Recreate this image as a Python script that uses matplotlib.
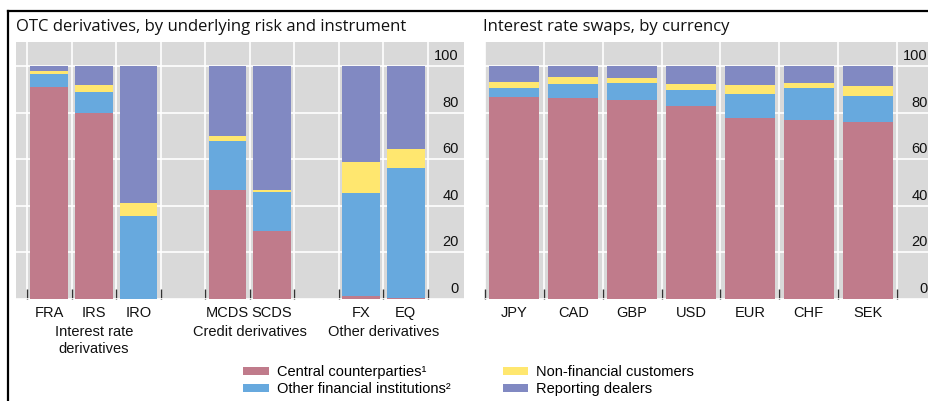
import matplotlib
matplotlib.use("Agg")
import matplotlib.pyplot as plt
import numpy as np
from matplotlib.transforms import offset_copy, blended_transform_factory
from matplotlib.patches import Patch
from matplotlib.lines import Line2D

# ---------------- data ----------------
left_categories = ["FRA", "IRS", "IRO", "MCDS", "SCDS", "FX", "EQ"]
left_positions = [0, 1, 2, 4, 5, 7, 8]
left_groups = ["Interest rate\nderivatives", "Credit derivatives", "Other derivatives"]
left_group_positions = [1, 4.5, 7.5]
left_ccp = [91.0, 80.0, 0.0, 46.8, 29.2, 1.3, 0.3]
left_ofi = [5.7, 8.7, 35.8, 21.1, 16.7, 44.3, 55.8]
left_nfc = [1.0, 3.1, 5.5, 1.9, 0.9, 13.2, 8.3]
left_dealers = [2.3, 8.2, 58.7, 30.2, 53.2, 41.2, 35.6]

right_categories = ["JPY", "CAD", "GBP", "USD", "EUR", "CHF", "SEK"]
right_ccp = [86.7, 86.4, 85.5, 82.8, 77.8, 76.7, 76.1]
right_ofi = [4.0, 5.7, 7.1, 6.9, 10.2, 13.7, 10.9]
right_nfc = [2.3, 3.3, 2.1, 2.7, 3.8, 2.2, 4.3]
right_dealers = [7.0, 4.6, 5.3, 7.6, 8.2, 7.4, 8.7]

series_names = ["Central counterparties\u00b9", "Other financial institutions\u00b2",
                "Non-financial customers", "Reporting dealers"]
yticks = [0, 20, 40, 60, 80, 100]

titles = ["OTC derivatives, by underlying risk and instrument",
          "Interest rate swaps, by currency"]

# ---------------- style ----------------
colors = ["#C07B8B", "#67A9DE", "#FFE76F", "#8189C2"]
bg = "#D9D9D9"
W, H = 929, 401
DPI = 100
label_font = ["Liberation Sans", "DejaVu Sans"]
title_font = ["Open Sans", "DejaVu Sans"]
FS = 10.5

fig = plt.figure(figsize=(W / DPI, H / DPI), dpi=DPI)
fig.patch.set_facecolor("white")


def px_axes(x0, x1, ytop, ybot):
    return fig.add_axes([x0 / W, (H - ybot) / H, (x1 - x0) / W, (ybot - ytop) / H])


def setup(ax, positions, boundaries, xlim, cats, stacks, label_dx):
    ax.set_facecolor(bg)
    for s in ax.spines.values():
        s.set_visible(False)
    ax.set_xlim(*xlim)
    ax.set_ylim(0, 110.3)
    ax.set_axisbelow(True)
    bottom = np.zeros(len(positions))
    for vals, c in zip(stacks, colors):
        ax.bar(positions, vals, bottom=bottom, width=0.85, color=c, linewidth=0, zorder=2)
        bottom = bottom + np.array(vals)
    ax.set_xticks(boundaries)
    ax.set_xticklabels([])
    ax.tick_params(axis="x", direction="in", length=7, width=1.0, color="#333333")
    ax.set_yticks(yticks)
    ax.tick_params(axis="y", length=0, labelleft=False)
    ax.grid(True, color="white", linewidth=1.2)
    # category labels
    tr = offset_copy(blended_transform_factory(ax.transData, ax.transAxes), fig=fig,
                     x=0, y=-14, units="dots")
    for p, c in zip(positions, cats):
        ax.text(p, 0, c, transform=tr, ha="center", va="center", fontsize=FS,
                family=label_font, color="#111111")
    # y labels (right side, inside the gray area)
    tr2 = offset_copy(ax.transData, fig=fig, x=label_dx, y=10, units="dots")
    for v in yticks:
        ax.text(boundaries[-1], v, str(v), transform=tr2, ha="right", va="center",
                fontsize=FS, family=label_font, color="#111111", clip_on=False)


# left panel
axL = px_axes(16, 464, 42, 299)
bL = [b - 0.5 for b in range(10)]
setup(axL, left_positions, bL, (-0.75, 8.5 + 36 / 44.5), left_categories,
      [left_ccp, left_ofi, left_nfc, left_dealers], 31)
trg = offset_copy(blended_transform_factory(axL.transData, axL.transAxes), fig=fig,
                  x=0, y=-26, units="dots")
for p, g in zip(left_group_positions, left_groups):
    axL.text(p, 0, g, transform=trg, ha="center", va="top", fontsize=FS,
             family=label_font, color="#111111", linespacing=1.25)

# right panel
axR = px_axes(485, 929, 42, 299)
bR = [b - 0.5 for b in range(8)]
setup(axR, list(range(7)), bR, (-0.5, 6.5 + 32 / 58.8), right_categories,
      [right_ccp, right_ofi, right_nfc, right_dealers], 31)

# titles
fig.text(16 / W, 1 - 27 / H, titles[0], ha="left", va="center", fontsize=12,
         family=title_font, color="#111111")
fig.text(483 / W, 1 - 27 / H, titles[1], ha="left", va="center", fontsize=12,
         family=title_font, color="#111111")

# frame lines
fig.add_artist(Line2D([8 / W, 1], [1 - 11 / H, 1 - 11 / H], color="black", linewidth=1.6,
                      transform=fig.transFigure))
fig.add_artist(Line2D([8 / W, 8 / W], [0, 1 - 11 / H], color="black", linewidth=1.6,
                      transform=fig.transFigure))

# legend
handles = [Patch(facecolor=c, edgecolor="none") for c in colors]
leg = fig.legend(handles, series_names, ncol=2, loc="upper left",
                 bbox_to_anchor=(233 / W, 1 - 355 / H), frameon=False,
                 prop={"family": label_font, "size": FS},
                 handlelength=1.75, handleheight=0.55, handletextpad=0.55,
                 columnspacing=3.6, labelspacing=0.2, borderpad=0.2)

fig.savefig("out.png", dpi=DPI, facecolor="white")
